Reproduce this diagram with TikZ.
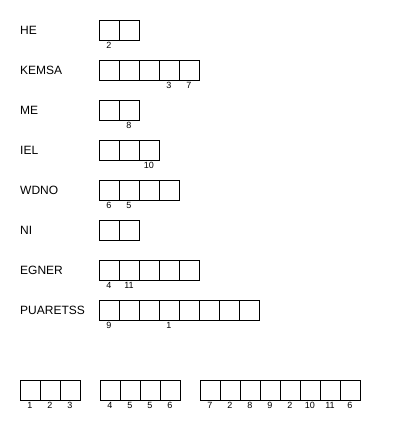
\documentclass[tikz,border=0pt]{standalone}
\usepackage{fontspec}
\setmainfont{Liberation Sans}
\tikzset{
  word/.style={anchor=west, inner sep=0pt, font=\fontsize{12}{14}\selectfont},
  cell/.style={draw, line width=1pt, minimum width=20pt, minimum height=20pt, inner sep=0pt, outer sep=0pt},
  num/.style={inner sep=0pt, font=\fontsize{9}{10}\selectfont}
}
\begin{document}
\begin{tikzpicture}[x=1pt,y=-1pt]
      \useasboundingbox (0,0) rectangle (400,440);
      % words
      \draw
        (20,30) node[word] (he){HE}
        (20,70) node[word] (kemsa){KEMSA}
        (20,110) node[word] (me){ME}
        (20,150) node[word] (iel){IEL}
        (20,190) node[word] (wdno){WDNO}
        (20,230) node[word] (ni){NI}
        (20,270) node[word] (egner){EGNER}
        (20,310) node[word] (puaretss){PUARETSS};
      % rows of cells
      \draw
        (109,30) node[cell] (he1){}
        (129,30) node[cell] (he2){};
      \draw
        (109,70) node[cell] (kemsa1){}
        (129,70) node[cell] (kemsa2){}
        (149,70) node[cell] (kemsa3){}
        (169,70) node[cell] (kemsa4){}
        (189,70) node[cell] (kemsa5){};
      \draw
        (109,110) node[cell] (me1){}
        (129,110) node[cell] (me2){};
      \draw
        (109,150) node[cell] (iel1){}
        (129,150) node[cell] (iel2){}
        (149,150) node[cell] (iel3){};
      \draw
        (109,190) node[cell] (wdno1){}
        (129,190) node[cell] (wdno2){}
        (149,190) node[cell] (wdno3){}
        (169,190) node[cell] (wdno4){};
      \draw
        (109,230) node[cell] (ni1){}
        (129,230) node[cell] (ni2){};
      \draw
        (109,270) node[cell] (egner1){}
        (129,270) node[cell] (egner2){}
        (149,270) node[cell] (egner3){}
        (169,270) node[cell] (egner4){}
        (189,270) node[cell] (egner5){};
      \draw
        (109,310) node[cell] (puaretss1){}
        (129,310) node[cell] (puaretss2){}
        (149,310) node[cell] (puaretss3){}
        (169,310) node[cell] (puaretss4){}
        (189,310) node[cell] (puaretss5){}
        (209,310) node[cell] (puaretss6){}
        (229,310) node[cell] (puaretss7){}
        (249,310) node[cell] (puaretss8){};
      % numbers under the rows
      \draw
        (109,45) node[num] (n-he1){2}
        (169,85) node[num] (n-kemsa4){3}
        (189,85) node[num] (n-kemsa5){7}
        (129,125) node[num] (n-me2){8}
        (149,165) node[num] (n-iel3){10}
        (109,205) node[num] (n-wdno1){6}
        (129,205) node[num] (n-wdno2){5}
        (109,285) node[num] (n-egner1){4}
        (129,285) node[num] (n-egner2){11}
        (109,325) node[num] (n-puaretss1){9}
        (169,325) node[num] (n-puaretss4){1};
      % bottom groups
      \draw
        (30,390) node[cell] (a1){}
        (50,390) node[cell] (a2){}
        (70,390) node[cell] (a3){};
      \draw
        (110,390) node[cell] (b1){}
        (130,390) node[cell] (b2){}
        (150,390) node[cell] (b3){}
        (170,390) node[cell] (b4){};
      \draw
        (210,390) node[cell] (c1){}
        (230,390) node[cell] (c2){}
        (250,390) node[cell] (c3){}
        (270,390) node[cell] (c4){}
        (290,390) node[cell] (c5){}
        (310,390) node[cell] (c6){}
        (330,390) node[cell] (c7){}
        (350,390) node[cell] (c8){};
      \draw
        (30,405) node[num] (n-a1){1}
        (50,405) node[num] (n-a2){2}
        (70,405) node[num] (n-a3){3}
        (110,405) node[num] (n-b1){4}
        (130,405) node[num] (n-b2){5}
        (150,405) node[num] (n-b3){5}
        (170,405) node[num] (n-b4){6}
        (210,405) node[num] (n-c1){7}
        (230,405) node[num] (n-c2){2}
        (250,405) node[num] (n-c3){8}
        (270,405) node[num] (n-c4){9}
        (290,405) node[num] (n-c5){2}
        (310,405) node[num] (n-c6){10}
        (330,405) node[num] (n-c7){11}
        (350,405) node[num] (n-c8){6};
    \end{tikzpicture}
\end{document}
